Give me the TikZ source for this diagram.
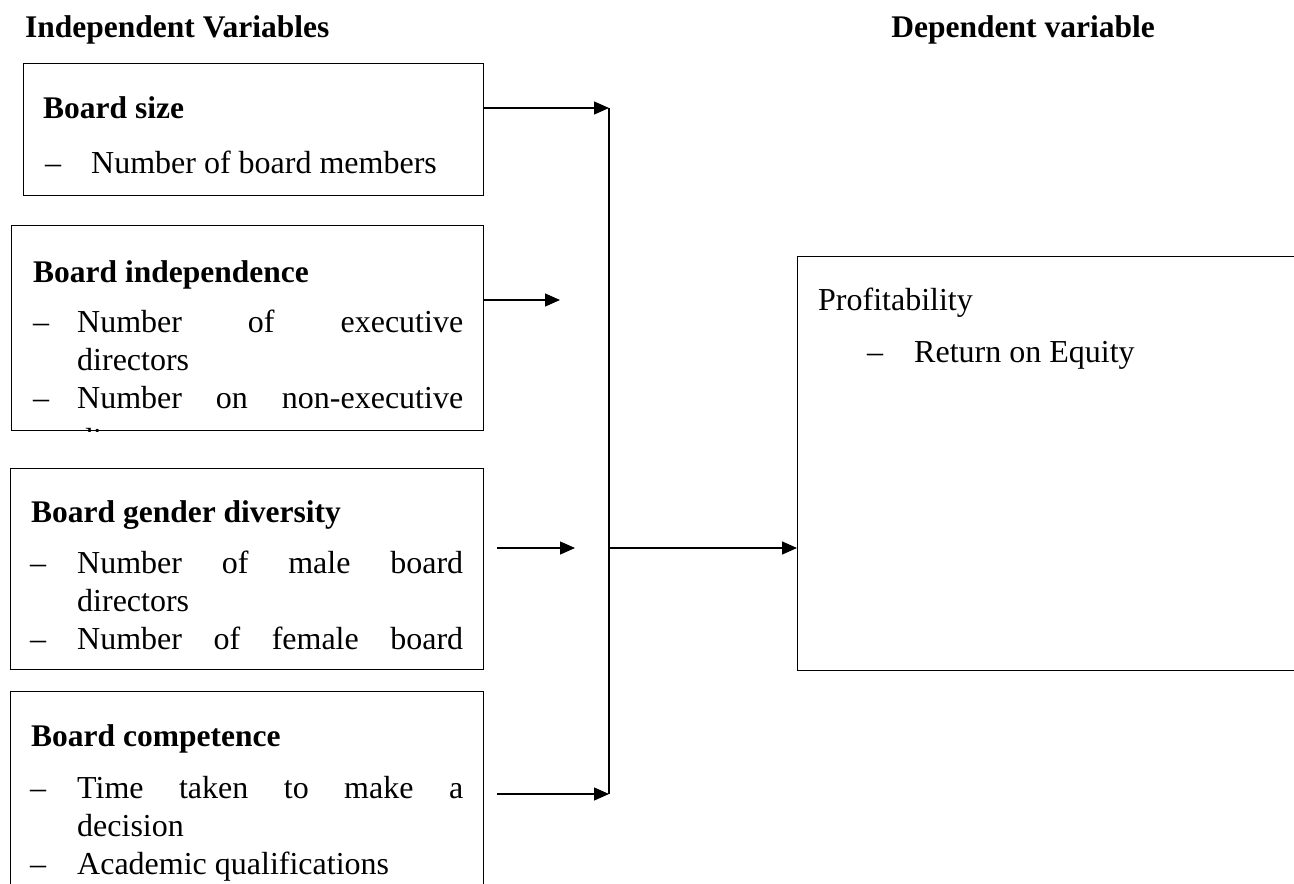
\documentclass[tikz,border=0pt]{standalone}
\usepackage{fontspec}
\setmainfont{Liberation Serif}
\usetikzlibrary{arrows.meta}
\newcommand{\bodyfnt}{\fontsize{32}{36}\selectfont}
\newcommand{\headfnt}{\fontsize{31.5}{36}\selectfont}
\newcommand{\just}[1]{\makebox[386pt][s]{#1}}
\begin{document}
\begin{tikzpicture}[x=1pt,y=-1pt,
  txt/.style={anchor=base west,inner sep=0pt,font=\bodyfnt},
  htxt/.style={inner sep=0pt,font=\headfnt\bfseries},
  box/.style={draw,line width=1.3pt,anchor=north west,inner sep=0pt},
  arr/.style={line width=1.3pt,-{Triangle[length=15pt,width=13pt]}},
  ln/.style={line width=1.3pt}]
\useasboundingbox (0,0) rectangle (1294,884);
\clip (0,0) rectangle (1294,884);
% headers
\node[htxt,anchor=base west] (hind) at (25,37) {Independent Variables};
\node[htxt,anchor=base east] (hdep) at (1155,37) {Dependent variable};
% boxes
\node[box,minimum width=460pt,minimum height=132pt] (b1) at (23,63) {};
\node[box,minimum width=472pt,minimum height=205pt] (b2) at (11,225) {};
\node[box,minimum width=473pt,minimum height=201pt] (b3) at (10,468) {};
\node[box,minimum width=473pt,minimum height=220pt] (b4) at (10,691) {};
\node[box,minimum width=520pt,minimum height=414pt] (prof) at (797,256) {};
% box 1 text
\node[htxt,anchor=base west] (t1h) at (43,118) {Board size};
\node[txt] (t1d) at (45,173) {–};
\node[txt] (t1a) at (91,173) {Number of board members};
% box 2 text
\begin{scope}
\clip (b2.north west) rectangle (b2.south east);
\node[htxt,anchor=base west] (t2h) at (33,282) {Board independence};
\node[txt] (t2d1) at (33,332) {–};
\node[txt] (t2a) at (77,332) {\just{Number of executive}};
\node[txt] (t2b) at (77,370) {directors};
\node[txt] (t2d2) at (33,408) {–};
\node[txt] (t2c) at (77,408) {\just{Number on non-executive}};
\node[txt] (t2e) at (77,450) {directors};
\end{scope}
% box 3 text
\node[htxt,anchor=base west] (t3h) at (31,522) {Board gender diversity};
\node[txt] (t3d1) at (30,573) {–};
\node[txt] (t3a) at (77,573) {\just{Number of male board}};
\node[txt] (t3b) at (77,611) {directors};
\node[txt] (t3d2) at (30,649) {–};
\node[txt] (t3c) at (77,649) {\just{Number of female board}};
% box 4 text
\node[htxt,anchor=base west] (t4h) at (31,746) {Board competence};
\node[txt] (t4d1) at (30,798) {–};
\node[txt] (t4a) at (77,798) {\just{Time taken to make a}};
\node[txt] (t4b) at (77,836) {decision};
\node[txt] (t4d2) at (30,874) {–};
\node[txt] (t4c) at (77,874) {Academic qualifications};
% profitability text
\node[txt] (tp) at (818,310) {Profitability};
\node[txt] (tpd) at (867,362) {–};
\node[txt] (tpa) at (914,362) {Return on Equity};
% connector points
\coordinate (j1) at (609,108);
\coordinate (e2) at (560,300);
\coordinate (s3) at (497,548);
\coordinate (e3) at (575,548);
\coordinate (s4) at (497,794);
\coordinate (j4) at (609,794);
\coordinate (j5) at (609,548);
% connectors
\draw[arr] (b1.north east |- j1) -- (j1);
\draw[arr] (b2.north east |- e2) -- (e2);
\draw[arr] (s3) -- (e3);
\draw[arr] (s4) -- (j4);
\draw[ln] (j1) -- (j4);
\draw[arr] (j5) -- (prof.west |- j5);
\end{tikzpicture}
\end{document}
